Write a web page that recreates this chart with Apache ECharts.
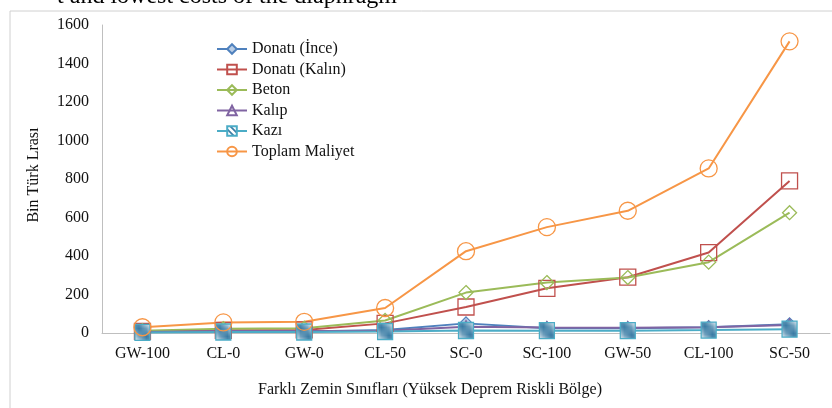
<!DOCTYPE html>
<html>
<head>
<meta charset="utf-8">
<script src="https://cdn.jsdelivr.net/npm/echarts@6/dist/echarts.min.js"></script>
<style>
html,body{margin:0;padding:0;background:#fff;}
#chart{width:832px;height:408px;}
</style>
</head>
<body>
<div id="chart"></div>
<script>
var categories = ['GW-100','CL-0','GW-0','CL-50','SC-0','SC-100','GW-50','CL-100','SC-50'];
var donatiInce = [5, 8, 8, 15, 50, 25, 25, 30, 45];
var donatiKalin = [8, 14, 16, 50, 135, 232, 290, 418, 790];
var beton = [12, 22, 25, 65, 210, 262, 288, 368, 625];
var kalip = [5, 10, 10, 12, 33, 28, 27, 30, 42];
var kazi = [3, 5, 5, 8, 13, 12, 12, 15, 20];
var toplam = [30, 55, 58, 130, 425, 550, 635, 855, 1515];
var yTicks = [0, 200, 400, 600, 800, 1000, 1200, 1400, 1600];

var FONT = '"Liberation Serif", "Times New Roman", serif';

// hatched pattern for Kazı markers
var pc = document.createElement('canvas');
pc.width = 6; pc.height = 6;
var g = pc.getContext('2d');
g.fillStyle = '#ffffff';
g.fillRect(0, 0, 6, 6);
g.strokeStyle = '#3A7CA5';
g.lineWidth = 1.7;
g.beginPath();
g.moveTo(-3, -3); g.lineTo(9, 9);
g.moveTo(-3, 3); g.lineTo(3, 9);
g.moveTo(3, -3); g.lineTo(9, 3);
g.stroke();

var chart = echarts.init(document.getElementById('chart'));

function lineSeries(name, data, color, symbol, size, fill) {
  return {
    name: name,
    type: 'line',
    data: data,
    symbol: symbol,
    symbolSize: size,
    showAllSymbol: true,
    lineStyle: { color: color, width: 2 },
    itemStyle: { color: fill, borderColor: color, borderWidth: 1.3 },
    emphasis: { disabled: true },
    animation: false
  };
}

chart.setOption({
  animation: false,
  backgroundColor: '#ffffff',
  graphic: [
    {
      type: 'rect',
      shape: { x: 10, y: 11, width: 900, height: 500 },
      style: { fill: 'none', stroke: '#D0D0D0', lineWidth: 1 },
      silent: true, z: -10
    },
    {
      type: 'text',
      x: 397, y: -3,
      style: {
        text: 't and lowest costs of the diaphragm',
        font: '24px ' + FONT,
        fill: '#000',
        align: 'right',
        verticalAlign: 'middle'
      },
      silent: true
    },
    {
      type: 'text',
      x: 430, y: 390,
      style: {
        text: 'Farklı Zemin Sınıfları (Yüksek Deprem Riskli Bölge)',
        font: '16px ' + FONT,
        fill: '#111',
        align: 'center',
        verticalAlign: 'middle'
      },
      silent: true
    },
    {
      type: 'text',
      x: 34, y: 175,
      rotation: Math.PI / 2,
      style: {
        text: 'Bin Türk Lrası',
        font: '16px ' + FONT,
        fill: '#111',
        align: 'center',
        verticalAlign: 'middle'
      },
      silent: true
    }
  ],
  legend: {
    orient: 'vertical',
    left: 211,
    top: 36,
    itemWidth: 30,
    itemHeight: 12,
    itemGap: 4.5,
    textStyle: { fontFamily: FONT, fontSize: 16, color: '#111' },
    data: ['Donatı (İnce)', 'Donatı (Kalın)', 'Beton', 'Kalıp', 'Kazı', 'Toplam Maliyet']
  },
  grid: { left: 102, right: 2, top: 25, bottom: 75, containLabel: false },
  xAxis: {
    type: 'category',
    data: categories,
    boundaryGap: true,
    axisLine: { lineStyle: { color: '#BFBFBF', width: 1 } },
    axisTick: { show: false },
    axisLabel: { fontFamily: FONT, fontSize: 16, color: '#111', margin: 13, interval: 0 },
    splitLine: { show: false }
  },
  yAxis: {
    type: 'value',
    min: 0, max: 1600, interval: 200,
    axisLine: { show: true, lineStyle: { color: '#BFBFBF', width: 1 } },
    axisTick: { show: false },
    axisLabel: {
      fontFamily: FONT, fontSize: 16, color: '#111', margin: 13,
      formatter: function (v) { return yTicks.indexOf(v) >= 0 ? String(v) : ''; }
    },
    splitLine: { show: false }
  },
  series: [
    lineSeries('Donatı (İnce)', donatiInce, '#4F81BD', 'diamond', 13, '#B9CDE5'),
    lineSeries('Donatı (Kalın)', donatiKalin, '#C0504D', 'rect', 16, 'rgba(255,255,255,0)'),
    lineSeries('Beton', beton, '#9BBB59', 'diamond', 14, 'rgba(255,255,255,0)'),
    lineSeries('Kalıp', kalip, '#8064A2', 'triangle', 12, 'rgba(255,255,255,0)'),
    lineSeries('Kazı', kazi, '#4BACC6', 'rect', [15, 16], { image: pc, repeat: 'repeat' }),
    lineSeries('Toplam Maliyet', toplam, '#F79646', 'circle', 17, 'rgba(255,255,255,0)')
  ]
});
</script>
</body>
</html>
